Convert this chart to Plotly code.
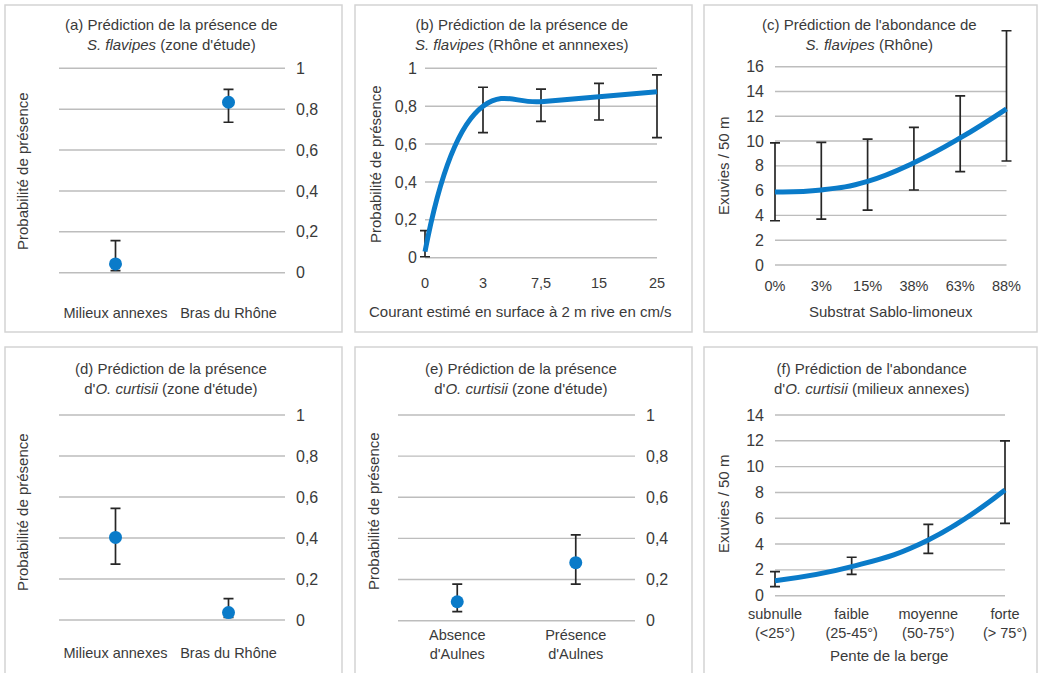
import plotly.graph_objects as go

W, H = 1040, 673

# ---------------- data ----------------
# (a) S. flavipes presence (zone d'étude)
a_cats = ["Milieux annexes", "Bras du Rhône"]
a_val = [0.043, 0.834]
a_lo = [0.010, 0.736]
a_hi = [0.157, 0.897]

# (b) S. flavipes presence vs current
b_cats = ["0", "3", "7,5", "15", "25"]
b_val = [0.032, 0.800, 0.824, 0.850, 0.876]
b_lo = [0.005, 0.660, 0.720, 0.727, 0.634]
b_hi = [0.143, 0.900, 0.890, 0.920, 0.965]

# (c) S. flavipes abundance vs sandy-silty substrate
c_cats = ["0%", "3%", "15%", "38%", "63%", "88%"]
c_val = [5.90, 6.05, 6.75, 8.25, 10.25, 12.60]
c_lo = [3.57, 3.70, 4.43, 6.05, 7.53, 8.39]
c_hi = [9.86, 9.90, 10.16, 11.10, 13.65, 18.90]

# (d) O. curtisii presence (zone d'étude)
d_cats = ["Milieux annexes", "Bras du Rhône"]
d_val = [0.403, 0.036]
d_lo = [0.273, 0.013]
d_hi = [0.545, 0.104]

# (e) O. curtisii presence vs alders
e_cats = ["Absence<br>d'Aulnes", "Présence<br>d'Aulnes"]
e_val = [0.092, 0.282]
e_lo = [0.044, 0.178]
e_hi = [0.178, 0.417]

# (f) O. curtisii abundance vs bank slope
f_cats = ["subnulle<br>(&lt;25°)", "faible<br>(25-45°)", "moyenne<br>(50-75°)", "forte<br>(&gt; 75°)"]
f_val = [1.16, 2.25, 4.32, 8.19]
f_lo = [0.70, 1.66, 3.28, 5.61]
f_hi = [1.86, 2.98, 5.53, 11.99]

prob_ticks = [0, 0.2, 0.4, 0.6, 0.8, 1]
prob_text = ["0", "0,2", "0,4", "0,6", "0,8", "1"]
c_ticks = [0, 2, 4, 6, 8, 10, 12, 14, 16]
f_ticks = [0, 2, 4, 6, 8, 10, 12, 14]

# ---------------- style ----------------
BLUE = "#0a7bc9"
ERR = "#262626"
GRID = "#bdbdbd"
TXT = "#3a3a3a"
FONT = "Liberation Sans, Arial, sans-serif"
XPAD = 7  # px of padding beyond first/last category for line panels

fig = go.Figure()


def err(val, lo, hi):
    return dict(type="data", symmetric=False,
                array=[h - v for v, h in zip(val, hi)],
                arrayminus=[v - l for v, l in zip(val, lo)],
                color=ERR, thickness=1.7, width=5)


panels = [
    # key, cats, val, lo, hi, kind, x px (first,last grid), y px (top of vref, bottom of 0), vref, vtop, ticks, ticktext, side, x standoff, y standoff
    ("a", a_cats, a_val, a_lo, a_hi, "pt", (59, 285), (68.3, 272.7), 1, 1.01, prob_ticks, prob_text, "right", 28, 10),
    ("b", b_cats, b_val, b_lo, b_hi, "ln", (425, 657), (68.3, 257.7), 1, 1.01, prob_ticks, prob_text, "left", 13, 0),
    ("c", c_cats, c_val, c_lo, c_hi, "ln", (775, 1006.5), (66.7, 265), 16, 19.3, c_ticks, [str(t) for t in c_ticks], "left", 9, 3),
    ("d", d_cats, d_val, d_lo, d_hi, "pt", (59, 285), (415, 620), 1, 1.01, prob_ticks, prob_text, "right", 20, 10),
    ("e", e_cats, e_val, e_lo, e_hi, "pt", (398, 635), (415, 620.7), 1, 1.01, prob_ticks, prob_text, "right", 2, 10),
    ("f", f_cats, f_val, f_lo, f_hi, "ln", (775, 1005), (415, 595.7), 14, 14.2, f_ticks, [str(t) for t in f_ticks], "left", 6, 3),
]

for i, (key, cats, val, lo, hi, kind, xpx, ypx, vref, vtop, yt, ytt, yside, xstand, ystand) in enumerate(panels):
    n = i + 1
    xs = list(range(len(cats)))
    xa = "x" if n == 1 else f"x{n}"
    ya = "y" if n == 1 else f"y{n}"
    ncat = len(cats)

    # x geometry
    if kind == "pt":
        xrange = [-0.5, ncat - 0.5]
        xd = [xpx[0] / W, xpx[1] / W]
        gx0, gx1 = -0.5, ncat - 0.5
    else:
        ppc = (xpx[1] - xpx[0]) / (ncat - 1)
        padc = XPAD / ppc
        xrange = [-padc, ncat - 1 + padc]
        xd = [(xpx[0] - XPAD) / W, (xpx[1] + XPAD) / W]
        gx0, gx1 = 0, ncat - 1

    # y geometry
    ppu = (ypx[1] - ypx[0]) / vref
    vbot = -0.01 * vref
    top_px = ypx[1] - vtop * ppu
    bot_px = ypx[1] - vbot * ppu
    yd = [1 - bot_px / H, 1 - top_px / H]
    yrange = [vbot, vtop]

    # gridlines drawn in data coordinates of this subplot
    for t in yt:
        fig.add_shape(type="line", xref=xa, yref=ya, x0=gx0, x1=gx1, y0=t, y1=t,
                      line=dict(color=GRID, width=1.4), layer="below")

    if kind == "pt":
        fig.add_trace(go.Scatter(
            x=xs, y=val, mode="markers", xaxis=xa, yaxis=ya,
            marker=dict(color=BLUE, size=13),
            error_y=err(val, lo, hi), cliponaxis=False, showlegend=False))
    else:
        fig.add_trace(go.Scatter(
            x=xs, y=val, mode="lines", xaxis=xa, yaxis=ya,
            line=dict(color=BLUE, width=5, shape="spline", smoothing=1.3),
            error_y=err(val, lo, hi), cliponaxis=False, showlegend=False))

    lx = "xaxis" if n == 1 else f"xaxis{n}"
    ly = "yaxis" if n == 1 else f"yaxis{n}"
    fig.layout[lx] = dict(
        domain=xd, range=xrange, anchor=ya, automargin=False,
        tickvals=xs, ticktext=cats, showgrid=False, zeroline=False,
        showline=False, ticks="", ticklabelstandoff=xstand,
        tickfont=dict(family=FONT, size=14.5, color=TXT), fixedrange=True)
    fig.layout[ly] = dict(
        domain=yd, range=yrange, anchor=xa, side=yside, automargin=False,
        tickvals=yt, ticktext=ytt, showgrid=False,
        zeroline=False, showline=False, ticks="", ticklabelstandoff=ystand,
        tickfont=dict(family=FONT, size=16, color=TXT), fixedrange=True)

# ---------------- panel frames ----------------
frames = [(5, 5, 342, 332), (355, 5, 692, 332), (704, 5, 1037, 332),
          (5, 347, 342, 690), (355, 347, 692, 690), (704, 347, 1037, 690)]
for x0, y0, x1, y1 in frames:
    fig.add_shape(type="rect", xref="paper", yref="paper",
                  x0=x0 / W, x1=x1 / W, y0=1 - y1 / H, y1=1 - y0 / H,
                  line=dict(color="#d4d4d4", width=1.5), fillcolor="rgba(0,0,0,0)",
                  layer="below")

# ---------------- titles & axis titles ----------------
titles = [
    (171.5, 34.5, "(a) Prédiction de la présence de<br><i>S. flavipes</i> (zone d'étude)"),
    (521, 34.5, "(b) Prédiction de la présence de<br><i>S. flavipes</i> (Rhône et annnexes)"),
    (869, 34.5, "(c) Prédiction de l'abondance de<br><i>S. flavipes</i> (Rhône)"),
    (171, 378, "(d) Prédiction de la présence<br>d'<i>O. curtisii</i> (zone d'étude)"),
    (521, 378, "(e) Prédiction de la présence<br>d'<i>O. curtisii</i> (zone d'étude)"),
    (871.5, 378, "(f) Prédiction de l'abondance<br>d'<i>O. curtisii</i> (milieux annexes)"),
]
for x, y, t in titles:
    fig.add_annotation(x=x / W, y=1 - y / H, xref="paper", yref="paper",
                       text=t, showarrow=False, xanchor="center", yanchor="middle",
                       font=dict(family=FONT, size=15, color=TXT))

ytitles = [
    (22, 171, "Probabilité de présence"),
    (375, 164, "Probabilité de présence"),
    (723, 166, "Exuvies / 50 m"),
    (22, 512, "Probabilité de présence"),
    (373, 511, "Probabilité de présence"),
    (723, 504, "Exuvies / 50 m"),
]
for x, y, t in ytitles:
    fig.add_annotation(x=x / W, y=1 - y / H, xref="paper", yref="paper",
                       text=t, showarrow=False, textangle=-90,
                       xanchor="center", yanchor="middle",
                       font=dict(family=FONT, size=15, color=TXT))

xtitles = [
    (520, 311.5, "Courant estimé en surface à 2 m rive en cm/s"),
    (891, 311.5, "Substrat Sablo-limoneux"),
    (889, 655, "Pente de la berge"),
]
for x, y, t in xtitles:
    fig.add_annotation(x=x / W, y=1 - y / H, xref="paper", yref="paper",
                       text=t, showarrow=False, xanchor="center", yanchor="middle",
                       font=dict(family=FONT, size=15, color=TXT))

fig.update_layout(
    width=W, height=H, margin=dict(l=0, r=0, t=0, b=0, autoexpand=False),
    paper_bgcolor="white", plot_bgcolor="rgba(0,0,0,0)",
    font=dict(family=FONT, color=TXT), showlegend=False,
)

fig.write_html("out.html", config={"displayModeBar": False},
               post_script="document.body.style.margin='0';document.body.style.overflow='hidden';")
